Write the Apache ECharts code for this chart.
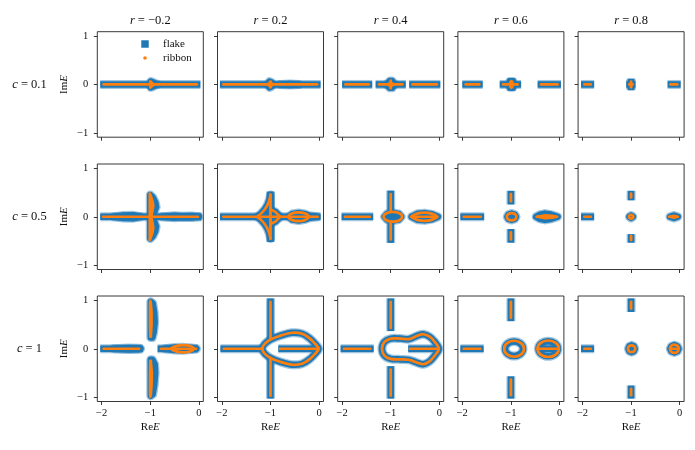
<!DOCTYPE html>
<html><head><meta charset="utf-8">
<script src="https://cdn.jsdelivr.net/npm/echarts@6/dist/echarts.min.js"></script>
<style>html,body{margin:0;padding:0;background:#fff}#c{width:695px;height:450px}</style>
</head><body><div id="c"></div>
<script>
// ---------- labels ----------
const rValues = ['\u22120.2', '0.2', '0.4', '0.6', '0.8'];
const cValues = ['0.1', '0.5', '1'];
const xTicks = [-2, -1, 0];
const yTicks = [-1, 0, 1];

// ---------- spectra (ReE, ImE) ----------
// each panel: lines = polylines (closed when first == last), fills = filled regions
const flakeC01 = [
  { lines: [[[-2.03,0],[0.03,0]]],
    fills: [[[-1.0,0],[-0.99,0.06],[-0.96,0.05],[-0.9,0.02],[-0.85,0],[-0.9,-0.02],[-0.96,-0.05],[-0.99,-0.06],[-1.0,0]]] },
  { lines: [[[-2.04,0],[0.03,0]]],
    fills: [[[-1.06,0],[-1.02,0.06],[-0.98,0.04],[-0.95,0],[-0.98,-0.04],[-1.02,-0.06],[-1.06,0]],
            [[-0.8,0],[-0.6,0.01],[-0.42,0],[-0.6,-0.01],[-0.8,0]]] },
  { lines: [[[-2.0,0],[-1.38,0]],[[-1.31,0],[-0.69,0]],[[-0.62,0],[0.02,0]]],
    fills: [[[-1.08,0],[-1.02,0.07],[-0.97,0.07],[-0.92,0],[-0.97,-0.07],[-1.02,-0.07],[-1.08,0]]] },
  { lines: [[[-2.0,0],[-1.58,0]],[[-1.23,0],[-0.79,0]],[[-0.45,0],[0.03,0]],[[-0.99,0.13],[-0.99,-0.13]]],
    fills: [[[-1.02,0.06],[-0.96,0.06],[-0.96,-0.06],[-1.02,-0.06],[-1.02,0.06]]] },
  { lines: [[[-2.03,0],[-1.76,0]],[[-1.1,0],[-0.91,0]],[[-0.25,0],[0.02,0]],[[-1,0.12],[-1,-0.12]]],
    fills: [] }
];
const ribbonC01 = [
  { lines: [[[-1.96,0],[-0.04,0]],[[-1,-0.06],[-1,0.06]]],
    fills: [[[-1.0,0.06],[-0.93,0],[-1.0,-0.06],[-1.0,0.06]]] },
  { lines: [[[-1.97,0],[-0.04,0]],[[-1,0.06],[-1,-0.06]]],
    fills: [[[-1.05,0],[-1,0.05],[-0.96,0],[-1,-0.05],[-1.05,0]]] },
  { lines: [[[-1.93,0],[-1.45,0]],[[-1.24,0],[-0.76,0]],[[-0.55,0],[-0.05,0]],[[-1,0.08],[-1,-0.08]]],
    fills: [[[-1.06,0],[-1,0.04],[-0.94,0],[-1,-0.04],[-1.06,0]]] },
  { lines: [[[-1.93,0],[-1.65,0]],[[-1.16,0],[-0.86,0]],[[-0.38,0],[-0.04,0]],[[-0.99,0.07],[-0.99,-0.07]]],
    fills: [[[-1.01,0.05],[-0.97,0.05],[-0.97,-0.05],[-1.01,-0.05],[-1.01,0.05]]] },
  { lines: [[[-1.96,0],[-1.83,0]],[[-1.04,0],[-0.97,0]],[[-0.19,0],[-0.05,0]],[[-1,0.06],[-1,-0.06]]],
    fills: [] }
];

const flakeC05 = [
  { lines: [[[-2.03,0],[0.05,0]]],
    fills: [[[-1.75,0],[-1.55,0.025],[-1.35,0.03],[-1.2,0],[-1.35,-0.03],[-1.55,-0.025],[-1.75,0]],
            [[-0.75,0],[-0.5,0.02],[-0.35,0.01],[-0.15,0.015],[0.0,0],[-0.15,-0.015],[-0.35,-0.01],[-0.5,-0.02],[-0.75,0]],
            [[-1.0,0.45],[-0.95,0.4],[-0.9,0.3],[-0.88,0.2],[-0.93,0.08],[-0.95,0],[-0.93,-0.08],[-0.88,-0.2],[-0.9,-0.3],[-0.95,-0.4],[-1.0,-0.45],[-1.0,0.45]]] },
  { lines: [[[-2.04,0],[0.03,0]],[[-1,0.52],[-1,-0.52]]],
    fills: [[[-1.27,0],[-1.2,0.06],[-1.12,0.15],[-1.06,0.25],[-1.02,0.36],[-1.0,0.45],[-1.0,-0.45],[-1.02,-0.36],[-1.06,-0.25],[-1.12,-0.15],[-1.2,-0.06],[-1.27,0]],
            [[-1,0.15],[-0.9,0.1],[-0.8,0],[-0.9,-0.1],[-1,-0.15],[-1,0.15]],
            [[-0.62,0],[-0.55,0.06],[-0.42,0.08],[-0.3,0.06],[-0.2,0.02],[-0.05,0],[-0.2,-0.02],[-0.3,-0.06],[-0.42,-0.08],[-0.55,-0.06],[-0.62,0]]] },
  { lines: [[[-2.01,0],[-1.36,0]],[[-1,0.54],[-1,0.12]],[[-1,-0.12],[-1,-0.54]]],
    fills: [[[-1.125,0],[-1.075,0.057],[-0.955,0.08],[-0.835,0.057],[-0.785,0],[-0.835,-0.057],[-0.955,-0.08],[-1.075,-0.057],[-1.125,0]],
            [[-0.57,0],[-0.45,0.06],[-0.3,0.075],[-0.15,0.05],[-0.03,0],[-0.15,-0.05],[-0.3,-0.075],[-0.45,-0.06],[-0.57,0]]] },
  { lines: [[[-2.04,0],[-1.55,0]],[[-1,0.536],[-1,0.254]],[[-1,-0.254],[-1,-0.536]]],
    fills: [[[-1.075,0],[-1.049,0.046],[-0.985,0.065],[-0.921,0.046],[-0.895,0],[-0.921,-0.046],[-0.985,-0.065],[-1.049,-0.046],[-1.075,0]],
            [[-0.48,0],[-0.4,0.045],[-0.3,0.065],[-0.18,0.045],[-0.04,0],[-0.18,-0.045],[-0.3,-0.065],[-0.4,-0.045],[-0.48,0]]] },
  { lines: [[[-2.03,0],[-1.76,0]],[[-1,0.536],[-1,0.34]],[[-1,-0.36],[-1,-0.536]]],
    fills: [[[-1.035,0],[-1,0.025],[-0.965,0],[-1,-0.025],[-1.035,0]],
            [[-0.2,0],[-0.12,0.025],[-0.04,0],[-0.12,-0.025],[-0.2,0]]] }
];
const ribbonC05 = [
  { lines: [[[-1.97,0],[-0.02,0]]],
    fills: [[[-1.01,0.48],[-0.98,0.4],[-0.95,0.3],[-0.94,0.22],[-0.96,0.1],[-0.98,0],[-0.96,-0.1],[-0.94,-0.22],[-0.95,-0.3],[-0.98,-0.4],[-1.01,-0.48],[-1.01,0.48]]] },
  { lines: [[[-1.97,0],[-0.03,0]],[[-1,0.46],[-1,-0.46]],
            [[-1.0,0.45],[-1.02,0.36],[-1.06,0.25],[-1.12,0.15],[-1.2,0.06],[-1.27,0],[-1.2,-0.06],[-1.12,-0.15],[-1.06,-0.25],[-1.02,-0.36],[-1.0,-0.45]],
            [[-1,0.15],[-0.9,0.1],[-0.8,0],[-0.9,-0.1],[-1,-0.15]],
            [[-0.63,0],[-0.56,0.065],[-0.42,0.09],[-0.3,0.07],[-0.21,0],[-0.3,-0.07],[-0.42,-0.09],[-0.56,-0.065],[-0.63,0]]],
    fills: [] },
  { lines: [[[-1.94,0],[-1.43,0]],[[-1,0.47],[-1,0.14]],[[-1,-0.14],[-1,-0.47]],
            [[-1.145,0],[-1.089,0.071],[-0.955,0.1],[-0.821,0.071],[-0.765,0],[-0.821,-0.071],[-0.955,-0.1],[-1.089,-0.071],[-1.145,0]],
            [[-0.58,0],[-0.04,0]],
            [[-0.57,0],[-0.44,0.07],[-0.3,0.085],[-0.16,0.065],[-0.05,0],[-0.16,-0.065],[-0.3,-0.085],[-0.44,-0.07],[-0.57,0]]],
    fills: [] },
  { lines: [[[-1.97,0],[-1.62,0]],[[-1,0.47],[-1,0.32]],[[-1,-0.32],[-1,-0.47]],
            [[-1.085,0],[-1.056,0.053],[-0.985,0.075],[-0.914,0.053],[-0.885,0],[-0.914,-0.053],[-0.985,-0.075],[-1.056,-0.053],[-1.085,0]],
            [[-0.47,0],[-0.05,0]]],
    fills: [[[-0.45,0],[-0.3,0.03],[-0.15,0.02],[-0.06,0],[-0.15,-0.02],[-0.3,-0.03],[-0.45,0]]] },
  { lines: [[[-1.96,0],[-1.83,0]],[[-1,0.48],[-1,0.4]],[[-1,-0.4],[-1,-0.48]],
            [[-1.045,0],[-1.032,0.028],[-1,0.04],[-0.968,0.028],[-0.955,0],[-0.968,-0.028],[-1,-0.04],[-1.032,-0.028],[-1.045,0]],
            [[-0.22,0],[-0.04,0]]],
    fills: [[[-0.2,0],[-0.12,0.02],[-0.05,0],[-0.12,-0.02],[-0.2,0]]] }
];

const flakeC1 = [
  { lines: [[[-2.03,0],[-1.16,0]],[[-0.85,0],[-0.02,0]]],
    fills: [[[-1.75,0],[-1.45,0.015],[-1.25,0.01],[-1.2,0],[-1.25,-0.01],[-1.45,-0.015],[-1.75,0]],
            [[-0.99,0.97],[-0.95,0.94],[-0.92,0.75],[-0.91,0.55],[-0.93,0.35],[-0.96,0.23],[-0.99,0.23],[-0.99,0.97]],
            [[-0.99,-0.225],[-0.96,-0.225],[-0.91,-0.32],[-0.9,-0.5],[-0.92,-0.75],[-0.95,-0.94],[-0.99,-0.97],[-0.99,-0.225]],
            [[-0.7,0],[-0.5,0.025],[-0.35,0.03],[-0.15,0.015],[-0.05,0],[-0.15,-0.015],[-0.35,-0.03],[-0.5,-0.025],[-0.7,0]]] },
  { lines: [[[-2.03,0],[-1.16,0]],[[-1,1.04],[-1,0.2]],[[-1,-0.2],[-1,-1.03]],[[-0.84,0],[0,0]],
            [[-1.17,0],[-1.12,0.1],[-1.0,0.19],[-0.8,0.27],[-0.55,0.33],[-0.35,0.31],[-0.2,0.22],[-0.08,0.1],[-0.01,0],[-0.08,-0.1],[-0.2,-0.22],[-0.35,-0.31],[-0.55,-0.33],[-0.8,-0.27],[-1.0,-0.19],[-1.12,-0.1],[-1.17,0]]],
    fills: [] },
  { lines: [[[-2.03,0],[-1.35,0]],[[-1,1.04],[-1,0.365]],[[-1,-0.36],[-1,-1.03]],[[-0.64,0],[0,0]],
            [[-1.18,0],[-1.13,0.14],[-1.0,0.21],[-0.8,0.21],[-0.62,0.2],[-0.45,0.27],[-0.33,0.3],[-0.2,0.25],[-0.1,0.15],[-0.01,0],[-0.1,-0.15],[-0.2,-0.26],[-0.33,-0.32],[-0.45,-0.29],[-0.62,-0.23],[-0.8,-0.22],[-1.0,-0.21],[-1.13,-0.14],[-1.18,0]]],
    fills: [] },
  { lines: [[[-2.04,0],[-1.56,0]],[[-1,1.04],[-1,0.57]],[[-1,-0.57],[-1,-1.03]],[[-0.45,0],[-0.02,0]],
            [[-1.12,0],[-1.066,0.106],[-0.935,0.15],[-0.804,0.106],[-0.75,0],[-0.804,-0.106],[-0.935,-0.15],[-1.066,-0.106],[-1.12,0]],
            [[-0.433,0],[-0.374,0.11],[-0.233,0.155],[-0.092,0.11],[-0.033,0],[-0.092,-0.11],[-0.233,-0.155],[-0.374,-0.11],[-0.433,0]]],
    fills: [] },
  { lines: [[[-2.03,0],[-1.76,0]],[[-1,1.04],[-1,0.76]],[[-1,-0.76],[-1,-1.03]]],
    fills: [[[-1.055,0],[-1.036,0.05],[-0.99,0.07],[-0.944,0.05],[-0.925,0],[-0.944,-0.05],[-0.99,-0.07],[-1.036,-0.05],[-1.055,0]],
            [[-0.195,0],[-0.17,0.053],[-0.11,0.075],[-0.05,0.053],[-0.025,0],[-0.05,-0.053],[-0.11,-0.075],[-0.17,-0.053],[-0.195,0]]] }
];
const ribbonC1 = [
  { lines: [[[-1.96,0],[-1.23,0]],[[-0.78,0],[-0.06,0]],
            [[-0.57,0],[-0.45,0.06],[-0.32,0.075],[-0.2,0.06],[-0.1,0],[-0.2,-0.06],[-0.32,-0.075],[-0.45,-0.06],[-0.57,0]]],
    fills: [[[-1.0,0.99],[-0.99,0.95],[-0.975,0.75],[-0.975,0.5],[-0.99,0.25],[-1.0,0.25],[-1.005,0.5],[-1.005,0.95],[-1.0,0.99]],
            [[-1.0,-0.99],[-0.99,-0.95],[-0.975,-0.75],[-0.97,-0.5],[-0.99,-0.25],[-1.0,-0.25],[-1.005,-0.5],[-1.005,-0.95],[-1.0,-0.99]]] },
  { lines: [[[-1.96,0],[-1.17,0]],[[-1,0.97],[-1,0.19]],[[-1,-0.19],[-1,-0.97]],[[-0.8,0],[-0.01,0]],
            [[-1.17,0],[-1.12,0.1],[-1.0,0.19],[-0.8,0.27],[-0.55,0.33],[-0.35,0.31],[-0.2,0.22],[-0.08,0.1],[-0.01,0],[-0.08,-0.1],[-0.2,-0.22],[-0.35,-0.31],[-0.55,-0.33],[-0.8,-0.27],[-1.0,-0.19],[-1.12,-0.1],[-1.17,0]]],
    fills: [] },
  { lines: [[[-1.96,0],[-1.42,0]],[[-1,0.97],[-1,0.43]],[[-1,-0.43],[-1,-0.97]],[[-0.6,0],[-0.01,0]],
            [[-1.18,0],[-1.13,0.14],[-1.0,0.21],[-0.8,0.21],[-0.62,0.2],[-0.45,0.27],[-0.33,0.3],[-0.2,0.25],[-0.1,0.15],[-0.01,0],[-0.1,-0.15],[-0.2,-0.26],[-0.33,-0.32],[-0.45,-0.29],[-0.62,-0.23],[-0.8,-0.22],[-1.0,-0.21],[-1.13,-0.14],[-1.18,0]]],
    fills: [] },
  { lines: [[[-1.97,0],[-1.63,0]],[[-1,0.97],[-1,0.64]],[[-1,-0.64],[-1,-0.96]],
            [[-1.14,0],[-1.08,0.117],[-0.935,0.165],[-0.79,0.117],[-0.73,0],[-0.79,-0.117],[-0.935,-0.165],[-1.08,-0.117],[-1.14,0]],
            [[-0.453,0],[-0.389,0.12],[-0.233,0.17],[-0.077,0.12],[-0.013,0],[-0.077,-0.12],[-0.233,-0.17],[-0.389,-0.12],[-0.453,0]],
            [[-0.45,0],[-0.02,0]]],
    fills: [] },
  { lines: [[[-1.96,0],[-1.83,0]],[[-1,0.97],[-1,0.83]],[[-1,-0.83],[-1,-0.96]],
            [[-1.065,0],[-1.043,0.05],[-0.99,0.07],[-0.937,0.05],[-0.915,0],[-0.937,-0.05],[-0.99,-0.07],[-1.043,-0.05],[-1.065,0]],
            [[-0.2,0],[-0.174,0.06],[-0.11,0.085],[-0.046,0.06],[-0.02,0],[-0.046,-0.06],[-0.11,-0.085],[-0.174,-0.06],[-0.2,0]],
            [[-0.2,0],[-0.02,0]]],
    fills: [] }
];

const flakeRows = [flakeC01, flakeC05, flakeC1];
const ribbonRows = [ribbonC01, ribbonC05, ribbonC1];

// ---------- layout / style ----------
const FONT = 'Liberation Serif';
const BLUE = '#1f77b4', ORANGE = '#ff7f0e';
const GL = 97.3, GSTEP = 120.2, GW = 106, GH = 105.5;
const GTOPS = [31.7, 164, 296];

const STYLES = {
  halo:   { stroke: 'rgba(31,119,180,0.42)', lw: 9, cap: 'butt' },
  flake:  { stroke: BLUE, lw: 6.5, cap: 'butt' },
  ribbon: { stroke: ORANGE, lw: 2.7, cap: 'round' }
};

function isClosed(s) {
  const a = s[0], b = s[s.length - 1];
  return s.length > 2 && a[0] === b[0] && a[1] === b[1];
}
function makeRender(items, kind) {
  const st = STYLES[kind];
  return function (params, api) {
    const it = items[params.dataIndex];
    const closed = isClosed(it.s);
    const src = closed ? it.s.slice(0, -1) : it.s;
    const pts = src.map(p => api.coord(p));
    const smooth = (!it.fill && src.length >= 6) ? 0.35 : 0;
    return {
      type: closed ? 'polygon' : 'polyline',
      shape: { points: pts, smooth: smooth },
      style: {
        stroke: st.stroke, lineWidth: st.lw, lineCap: st.cap, lineJoin: 'round',
        fill: (it.fill) ? st.stroke : null
      },
      silent: true
    };
  };
}

const grids = [], xAxes = [], yAxes = [], series = [], graphics = [];
const fmt = v => (v < 0 ? '\u2212' : '') + Math.abs(v);

for (let r = 0; r < 3; r++) {
  for (let c = 0; c < 5; c++) {
    const p = r * 5 + c;
    grids.push({ left: GL + c * GSTEP, top: GTOPS[r], width: GW, height: GH,
      show: true, borderColor: '#222', borderWidth: 0.9, backgroundColor: 'transparent', containLabel: false });
    xAxes.push({ type: 'value', gridIndex: p, min: -2.09, max: 0.09, position: 'bottom',
      axisLine: { show: false, onZero: false }, splitLine: { show: false },
      axisTick: { show: true, inside: false, length: 3.5, customValues: xTicks, lineStyle: { color: '#222', width: 0.9 } },
      axisLabel: { show: r === 2, customValues: xTicks, formatter: fmt, margin: 6,
        fontFamily: FONT, fontSize: 10.5, color: '#111' } });
    yAxes.push({ type: 'value', gridIndex: p, min: -1.09, max: 1.09, position: 'left',
      axisLine: { show: false, onZero: false }, splitLine: { show: false },
      axisTick: { show: true, inside: false, length: 3.5, customValues: yTicks, lineStyle: { color: '#222', width: 0.9 } },
      axisLabel: { show: c === 0, customValues: yTicks, formatter: fmt, margin: 9,
        fontFamily: FONT, fontSize: 10.5, color: '#111' } });

    const f = flakeRows[r][c], rb = ribbonRows[r][c];
    const fItems = f.lines.map(s => ({ s, fill: false })).concat(f.fills.map(s => ({ s, fill: true })));
    const rItems = rb.lines.map(s => ({ s, fill: false })).concat(rb.fills.map(s => ({ s, fill: true })));
    [['halo', fItems, 'flake', 2], ['flake', fItems, 'flake', 3], ['ribbon', rItems, 'ribbon', 4]].forEach(([kind, items, name, z]) => {
      series.push({
        type: 'custom', name: name, coordinateSystem: 'cartesian2d',
        xAxisIndex: p, yAxisIndex: p, z: z, silent: true, animation: false, clip: false,
        itemStyle: { color: name === 'flake' ? BLUE : ORANGE },
        encode: { x: 0, y: 1 },
        data: items.map(it => it.s[0]),
        renderItem: makeRender(items, kind)
      });
    });
  }
}

function txt(x, y, text, size, rot) {
  return { type: 'text', x: x, y: y, rotation: rot || 0, silent: true, z: 10,
    style: { text: text, fontFamily: FONT, fontSize: size, fill: '#111',
      align: 'center', verticalAlign: 'middle', textAlign: 'center', textVerticalAlign: 'middle',
      rich: { i: { fontStyle: 'italic', fontFamily: FONT, fontSize: size, fill: '#111' },
              n: { fontFamily: FONT, fontSize: size, fill: '#111' } } } };
}
for (let c = 0; c < 5; c++) {
  const cx = GL + c * GSTEP + GW / 2;
  graphics.push(txt(cx, 21, '{i|r}{n| = ' + rValues[c] + '}', 12.5));
  graphics.push(txt(cx, 427.3, '{n|Re}{i|E}', 11));
}
for (let r = 0; r < 3; r++) {
  const cy = GTOPS[r] + GH / 2;
  graphics.push(txt(29.5, cy, '{i|c}{n| = ' + cValues[r] + '}', 12.5));
  graphics.push(txt(64, cy, '{n|Im}{i|E}', 11, Math.PI / 2));
}
// legend
graphics.push({ type: 'rect', shape: { x: 141.5, y: 40.5, width: 7, height: 7 }, silent: true, z: 10,
  style: { fill: BLUE, stroke: 'rgba(31,119,180,0.45)', lineWidth: 1 } });
graphics.push({ type: 'circle', shape: { cx: 145, cy: 58, r: 1.8 }, silent: true, z: 10, style: { fill: ORANGE } });
graphics.push({ type: 'text', x: 163, y: 44, silent: true, z: 10,
  style: { text: 'flake', fontFamily: FONT, fontSize: 11, fill: '#111', align: 'left', verticalAlign: 'middle', textAlign: 'left', textVerticalAlign: 'middle' } });
graphics.push({ type: 'text', x: 163, y: 58, silent: true, z: 10,
  style: { text: 'ribbon', fontFamily: FONT, fontSize: 11, fill: '#111', align: 'left', verticalAlign: 'middle', textAlign: 'left', textVerticalAlign: 'middle' } });

const chart = echarts.init(document.getElementById('c'), null, { renderer: 'canvas' });
chart.setOption({
  backgroundColor: '#fff',
  animation: false,
  grid: grids, xAxis: xAxes, yAxis: yAxes, series: series, graphic: graphics
});
</script></body></html>
